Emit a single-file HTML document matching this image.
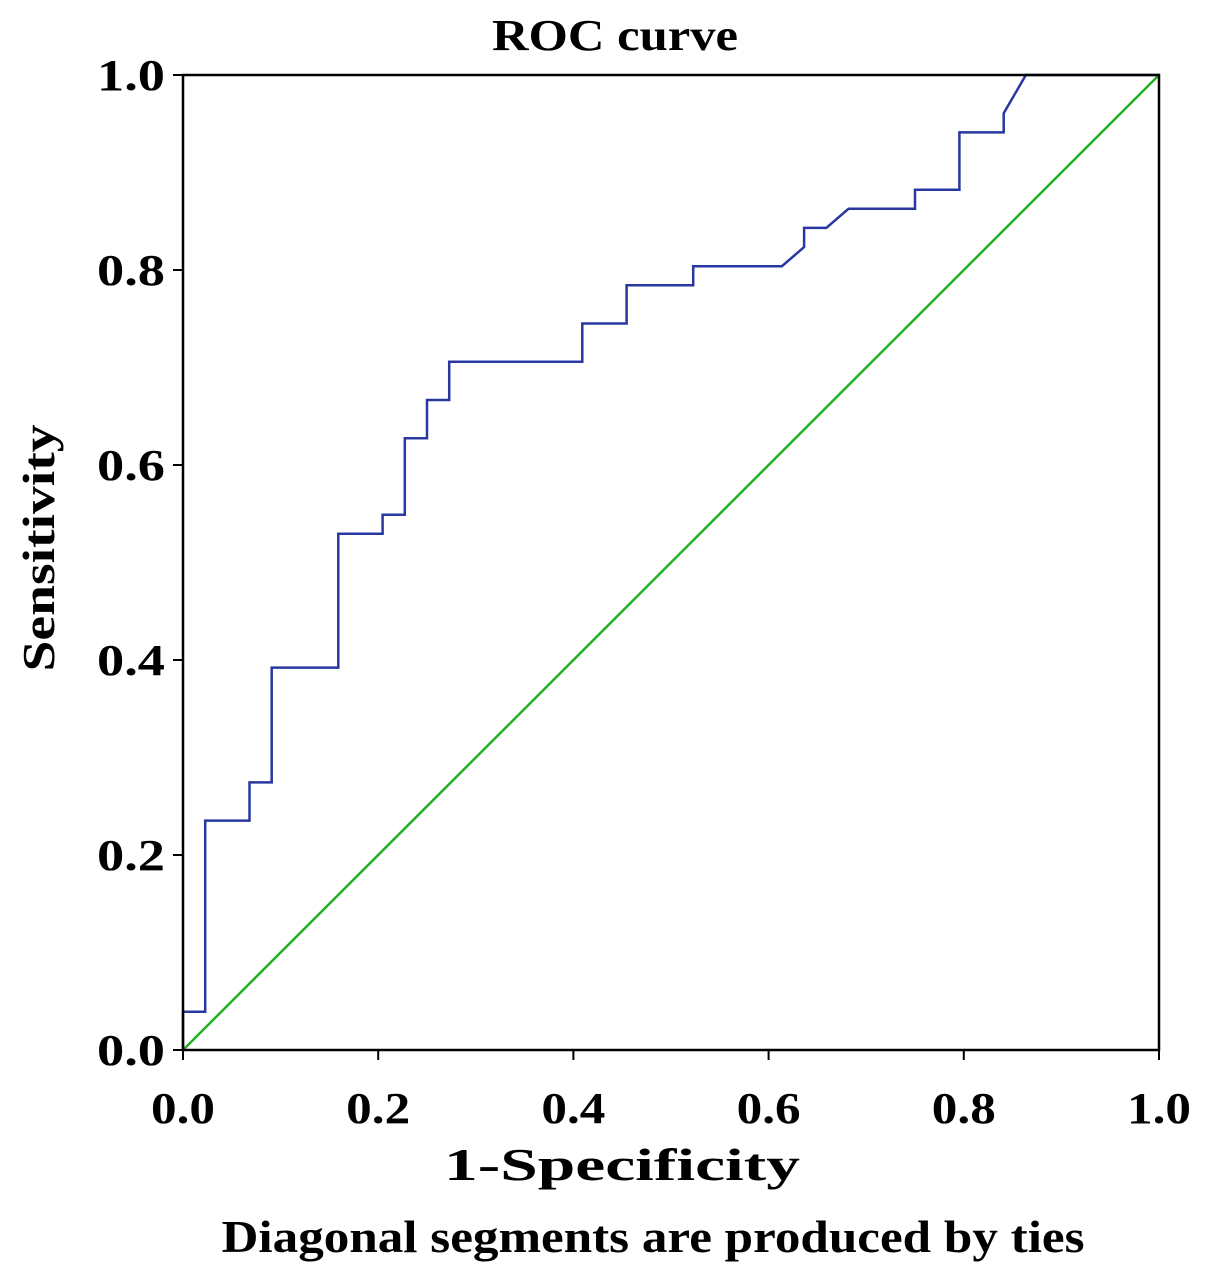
<!DOCTYPE html>
<html><head><meta charset="utf-8"><style>
html,body{margin:0;padding:0;background:#fff;}
svg{display:block;font-family:"Liberation Serif",serif;font-weight:bold;}
</style></head><body>
<svg id="chart" width="1205" height="1285" viewBox="0 0 1205 1285">
<text x="615" y="50" font-size="44" text-anchor="middle" textLength="246" lengthAdjust="spacingAndGlyphs">ROC curve</text>
<g id="ticks"></g>
<line id="diag" stroke="#22b022" stroke-width="2.5"/>
<path id="roc" fill="none" stroke="#2838a0" stroke-width="2.5"/>
<rect x="183" y="75" width="976" height="975" fill="none" stroke="#000" stroke-width="2.5"/>
<text x="622" y="1180" font-size="46" text-anchor="middle" textLength="356" lengthAdjust="spacingAndGlyphs">1-Specificity</text>
<text x="0" y="0" font-size="46" text-anchor="middle" textLength="247" lengthAdjust="spacingAndGlyphs" transform="translate(54,548) rotate(-90)">Sensitivity</text>
<text x="653" y="1252" font-size="46" text-anchor="middle" textLength="863" lengthAdjust="spacingAndGlyphs">Diagonal segments are produced by ties</text>
</svg>
<script>
const fprValues=[0,0,1/44,1/44,3/44,3/44,4/44,4/44,7/44,7/44,9/44,9/44,10/44,10/44,11/44,11/44,12/44,12/44,18/44,18/44,20/44,20/44,23/44,23/44,27/44,28/44,28/44,29/44,30/44,33/44,33/44,35/44,35/44,37/44,37/44,38/44,1];
const tprValues=[0,2/51,2/51,12/51,12/51,14/51,14/51,20/51,20/51,27/51,27/51,28/51,28/51,32/51,32/51,34/51,34/51,36/51,36/51,38/51,38/51,40/51,40/51,41/51,41/51,42/51,43/51,43/51,44/51,44/51,45/51,45/51,48/51,48/51,49/51,1,1];
const tickValues=[0,0.2,0.4,0.6,0.8,1.0];
const tickLabels=["0.0","0.2","0.4","0.6","0.8","1.0"];
const X0=183,X1=1159,Y0=1050,Y1=75;
const sx=v=>X0+v*(X1-X0), sy=v=>Y0-v*(Y0-Y1);
const ns="http://www.w3.org/2000/svg";
const g=document.getElementById('ticks');
tickValues.forEach((v,i)=>{
  let t=document.createElementNS(ns,'text');
  
  
  t.setAttribute('x',sx(v));t.setAttribute('y',1123);t.setAttribute('font-size','44');t.setAttribute('text-anchor','middle');
  t.setAttribute('textLength','64');t.setAttribute('lengthAdjust','spacingAndGlyphs');
  t.textContent=tickLabels[i];g.appendChild(t);
  let l=document.createElementNS(ns,'line');
  
  
  l.setAttribute('x1',sx(v));l.setAttribute('x2',sx(v));l.setAttribute('y1',1050);l.setAttribute('y2',1060);l.setAttribute('stroke','#000');l.setAttribute('stroke-width','2');g.appendChild(l);
  let u=document.createElementNS(ns,'text');
  
  
  u.setAttribute('x',165);u.setAttribute('y',sy(v)+15);u.setAttribute('font-size','44');u.setAttribute('text-anchor','end');
  u.setAttribute('textLength','68');u.setAttribute('lengthAdjust','spacingAndGlyphs');
  u.textContent=tickLabels[i];g.appendChild(u);
  let m=document.createElementNS(ns,'line');
  
  
  m.setAttribute('x1',173);m.setAttribute('x2',183);m.setAttribute('y1',sy(v));m.setAttribute('y2',sy(v));m.setAttribute('stroke','#000');m.setAttribute('stroke-width','2');g.appendChild(m);
});
const d=document.getElementById('diag');
d.setAttribute('x1',sx(0));d.setAttribute('y1',sy(0));d.setAttribute('x2',sx(1));d.setAttribute('y2',sy(1));
document.getElementById('roc').setAttribute('d',fprValues.map((v,i)=>(i?'L':'M')+sx(v).toFixed(1)+','+sy(tprValues[i]).toFixed(1)).join(' '));
</script>
</body></html>
